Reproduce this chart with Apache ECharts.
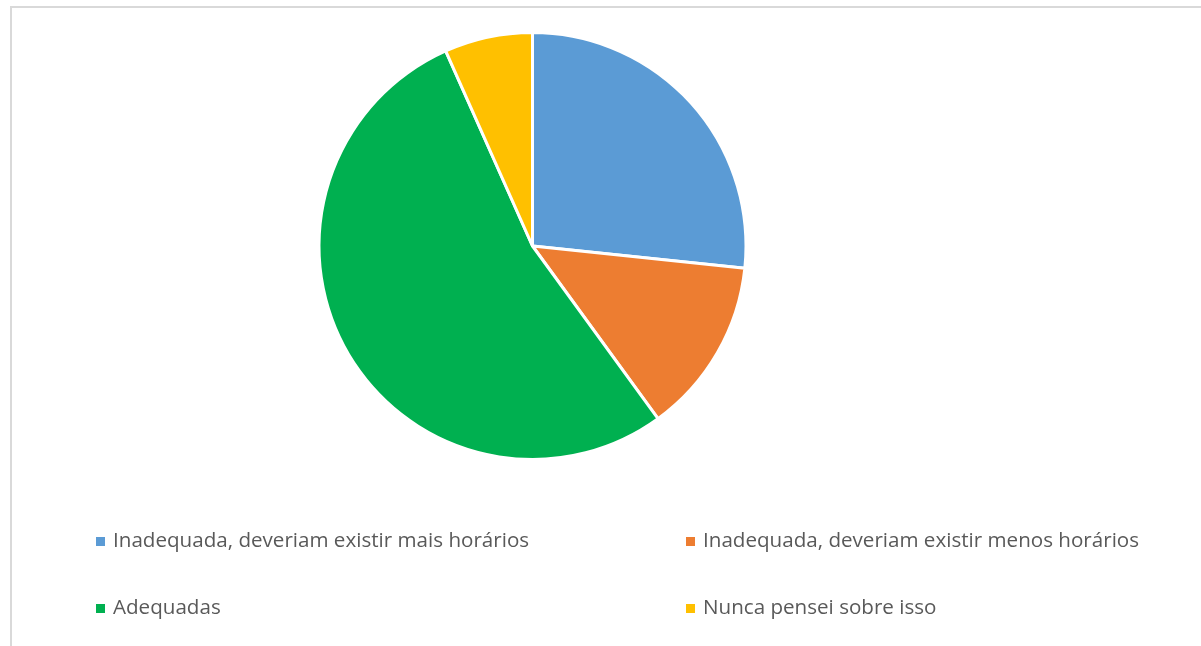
<!DOCTYPE html>
<html>
<head>
<meta charset="utf-8">
<script src="https://cdn.jsdelivr.net/npm/echarts@6/dist/echarts.min.js"></script>
<style>
  html, body { margin: 0; padding: 0; background: #fff; }
  #chart { width: 1201px; height: 646px; }
</style>
</head>
<body>
<div id="chart"></div>
<script>
// Survey answers about the number of schedules offered
const categories = [
  'Inadequada, deveriam existir mais horários',
  'Inadequada, deveriam existir menos horários',
  'Adequadas',
  'Nunca pensei sobre isso'
];
const values = [4, 2, 8, 1];
const colors = ['#5B9BD5', '#ED7D31', '#00B050', '#FFC000'];

const textStyle = {
  color: '#595959',
  fontFamily: 'Open Sans',
  fontSize: 20.6,
  padding: [0, 0, 0, 3]
};

// one legend entry per box so each sits in its own grid cell
const legendPos = [
  { left: 96, top: 531 },
  { left: 686, top: 531 },
  { left: 96, top: 598 },
  { left: 686, top: 598 }
];
const legends = categories.map((name, i) => ({
  data: [name],
  left: legendPos[i].left,
  top: legendPos[i].top,
  padding: 0,
  icon: 'rect',
  itemWidth: 9,
  itemHeight: 9,
  itemStyle: { borderWidth: 0 },
  selectedMode: false,
  textStyle: textStyle
}));

const chart = echarts.init(document.getElementById('chart'), null, { renderer: 'canvas' });
chart.setOption({
  animation: false,
  color: colors,
  legend: legends,
  graphic: [{
    type: 'rect',
    shape: { x: 11, y: 7, width: 1400, height: 800 },
    style: { fill: 'none', stroke: '#d9d9d9', lineWidth: 2 },
    silent: true
  }],
  series: [{
    type: 'pie',
    center: [532.5, 246],
    radius: 213.5,
    startAngle: 90,
    clockwise: true,
    label: { show: false },
    labelLine: { show: false },
    emphasis: { disabled: true },
    itemStyle: { borderColor: '#ffffff', borderWidth: 3 },
    data: categories.map((name, i) => ({ name: name, value: values[i] }))
  }]
});
</script>
</body>
</html>
